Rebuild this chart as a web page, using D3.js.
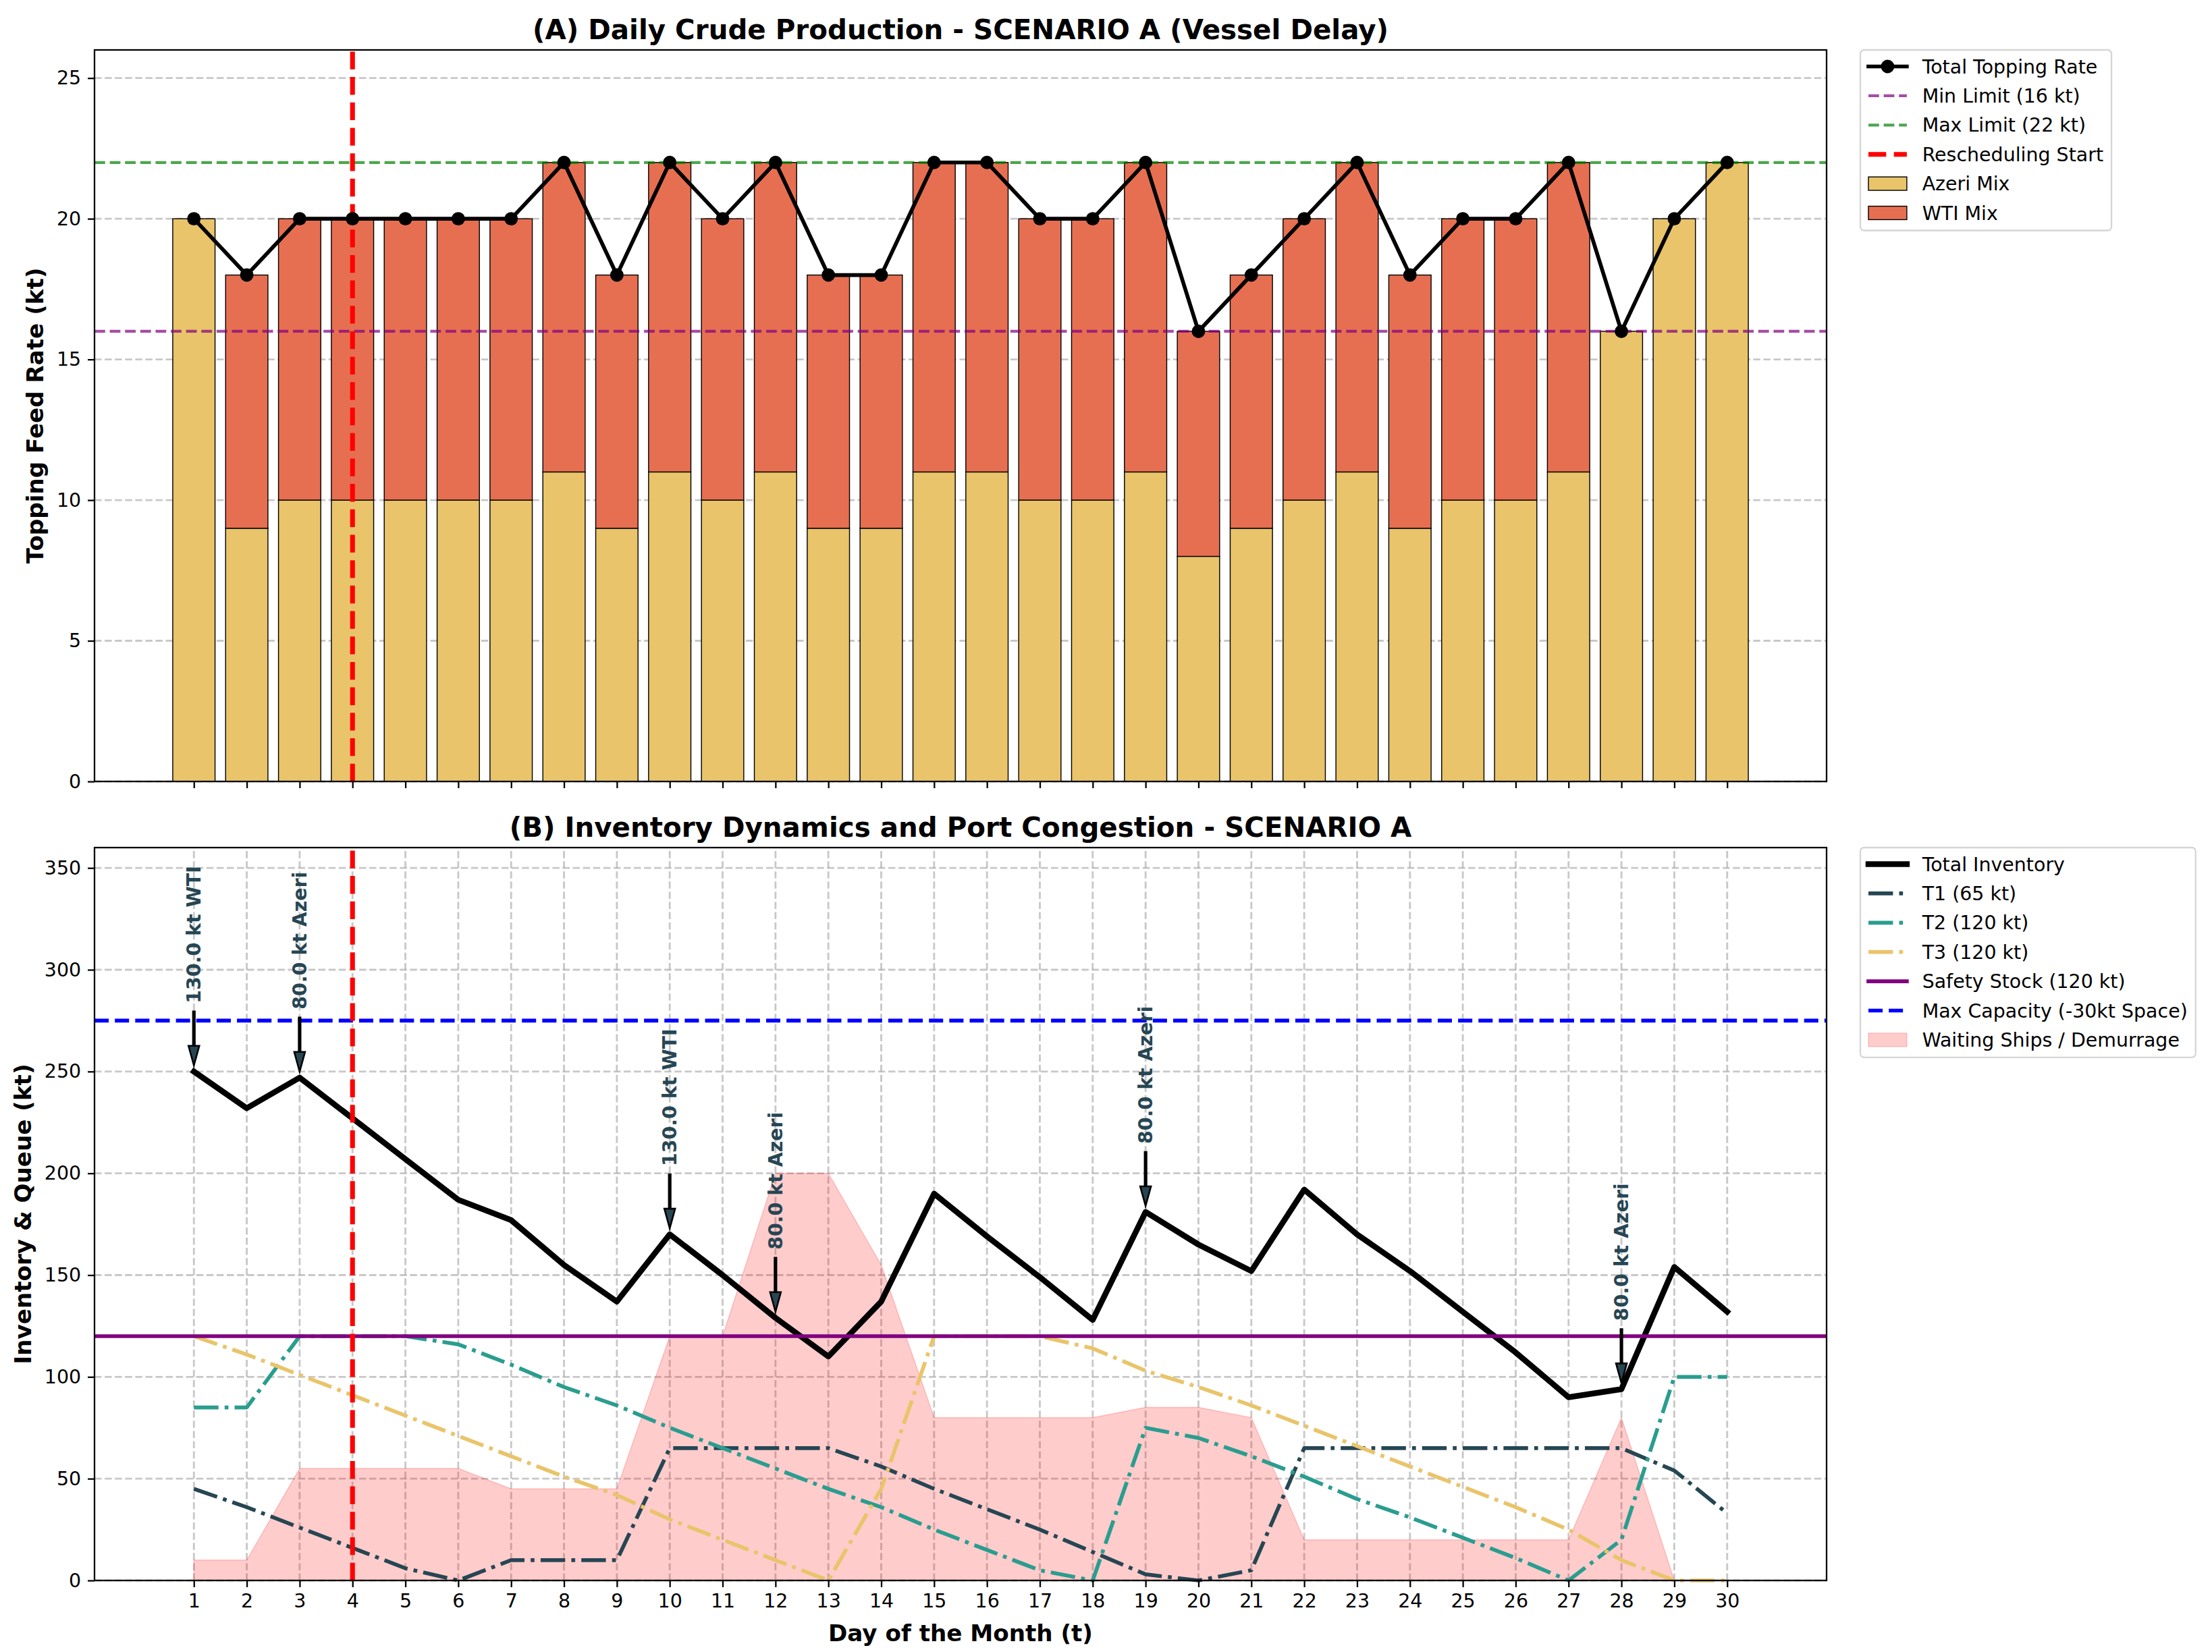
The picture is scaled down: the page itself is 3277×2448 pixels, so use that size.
<!DOCTYPE html>
<html>
<head>
<meta charset="utf-8">
<script src="https://cdn.jsdelivr.net/npm/d3@7"></script>
<style>
  html, body { margin: 0; padding: 0; background: #fff; }
  svg { display: block; font-family: "DejaVu Sans", sans-serif; }
</style>
</head>
<body>
<svg id="chart" width="3277" height="2448"></svg>
<script>
// ---- data ----
var days = d3.range(1, 31);
var azeriFeed = [20, 9, 10, 10, 10, 10, 10, 11, 9, 11, 10, 11, 9, 9, 11, 11, 10, 10, 11, 8, 9, 10, 11, 9, 10, 10, 11, 16, 20, 22];
var wtiFeed   = [0, 9, 10, 10, 10, 10, 10, 11, 9, 11, 10, 11, 9, 9, 11, 11, 10, 10, 11, 8, 9, 10, 11, 9, 10, 10, 11, 0, 0, 0];
var minLimit = 16, maxLimit = 22;
var reschedDay = 4;

var totalInventory = [250, 232, 247, 227, 207, 187, 177, 155, 137, 170, 150, 129, 110, 137, 190, 169, 149, 128, 181, 165, 152, 192, 170, 152, 132, 112, 90, 94, 154, 132];
var tank1 = [45, 36, 26, 16, 6, 0, 10, 10, 10, 65, 65, 65, 65, 56, 45, 35, 25, 14, 3, 0, 5, 65, 65, 65, 65, 65, 65, 65, 54, 33];
var tank2 = [85, 85, 120, 120, 120, 116, 106, 95, 86, 75, 65, 55, 45, 36, 25, 15, 5, 0, 75, 70, 61, 51, 40, 31, 21, 11, 0, 20, 100, 100];
var tank3 = [120, 111, 101, 91, 81, 71, 61, 51, 42, 30, 20, 10, 0, 45, 120, 120, 120, 114, 103, 95, 86, 76, 66, 56, 46, 36, 25, 10, 0, 0];
var waitingShips = [10, 10, 55, 55, 55, 55, 45, 45, 45, 120, 120, 200, 200, 155, 80, 80, 80, 80, 85, 85, 80, 20, 20, 20, 20, 20, 20, 80, 0, 0];
var safetyStock = 120, maxCapacity = 275;

var arrivalDays   = [1, 3, 10, 12, 19, 28];
var arrivalLabels = ['130.0 kt WTI', '80.0 kt Azeri', '130.0 kt WTI', '80.0 kt Azeri', '80.0 kt Azeri', '80.0 kt Azeri'];

var topTicks = [0, 5, 10, 15, 20, 25];
var bottomTicks = [0, 50, 100, 150, 200, 250, 300, 350];

// ---- sizes (figure rendered at ~205 dpi) ----
var PT = 204.8 / 72;
var fs = 10 * PT, labelFs = 12 * PT, titleFs = 14.2 * PT;
var X0 = 140, X1 = 2706;
var TA0 = 74, TA1 = 1158;     // top axes
var BA0 = 1256, BA1 = 2342;   // bottom axes

var c = {azeri: '#e9c46a', wti: '#e76f51', t1: '#264653', t2: '#2a9d8f', t3: '#e9c46a'};

var svg = d3.select('#chart');

var x = d3.scaleLinear().domain([-0.88, 31.88]).range([X0, X1]);
var yTop = d3.scaleLinear().domain([0, 26]).range([TA1, TA0]);
var yBot = d3.scaleLinear().domain([0, 360]).range([BA1, BA0]);

function dash(lw, pattern) {
    return pattern.map(function(p) { return p * lw * PT; }).join(',');
}
var DASHED = [3.7, 1.6], DASHDOT = [6.4, 1.6, 1, 1.6];

function hGrid(g, scale, ticks) {
    g.append('g').selectAll('line').data(ticks).join('line')
        .attr('x1', X0).attr('x2', X1)
        .attr('y1', function(d) { return scale(d); }).attr('y2', function(d) { return scale(d); })
        .attr('stroke', '#b0b0b0').attr('stroke-opacity', 0.7)
        .attr('stroke-width', 1 * PT).attr('stroke-dasharray', dash(1, DASHED));
}

function styleAxis(g, labels) {
    g.select('.domain').remove();
    g.selectAll('.tick line').attr('stroke', '#000').attr('stroke-width', 0.8 * PT);
    g.selectAll('.tick text').attr('fill', '#000').attr('font-size', fs)
        .attr('font-family', '"DejaVu Sans", sans-serif');
    if (!labels) g.selectAll('.tick text').remove();
}

// ================= (A) top chart =================
var gA = svg.append('g');
hGrid(gA, yTop, topTicks);

var barW = 0.8;
gA.append('g').selectAll('rect').data(days).join('rect')
    .attr('x', function(d) { return x(d - barW / 2); })
    .attr('width', x(barW) - x(0))
    .attr('y', function(d, i) { return yTop(azeriFeed[i]); })
    .attr('height', function(d, i) { return yTop(0) - yTop(azeriFeed[i]); })
    .attr('fill', c.azeri).attr('stroke', '#000').attr('stroke-width', 0.5 * PT);

gA.append('g').selectAll('rect').data(days.filter(function(d, i) { return wtiFeed[i] > 0; })).join('rect')
    .attr('x', function(d) { return x(d - barW / 2); })
    .attr('width', x(barW) - x(0))
    .attr('y', function(d) { return yTop(azeriFeed[d - 1] + wtiFeed[d - 1]); })
    .attr('height', function(d) { return yTop(azeriFeed[d - 1]) - yTop(azeriFeed[d - 1] + wtiFeed[d - 1]); })
    .attr('fill', c.wti).attr('stroke', '#000').attr('stroke-width', 0.5 * PT);

// limits
[[minLimit, '#800080'], [maxLimit, '#008000']].forEach(function(l) {
    gA.append('line')
        .attr('x1', X0).attr('x2', X1).attr('y1', yTop(l[0])).attr('y2', yTop(l[0]))
        .attr('stroke', l[1]).attr('stroke-opacity', 0.7)
        .attr('stroke-width', 1.5 * PT).attr('stroke-dasharray', dash(1.5, DASHED));
});

// rescheduling start
gA.append('line')
    .attr('x1', x(reschedDay)).attr('x2', x(reschedDay)).attr('y1', TA1).attr('y2', TA0)
    .attr('stroke', '#ff0000').attr('stroke-width', 2.5 * PT).attr('stroke-dasharray', dash(2.5, DASHED));

var totalFeed = days.map(function(d, i) { return azeriFeed[i] + wtiFeed[i]; });
gA.append('path')
    .attr('d', d3.line().x(function(d, i) { return x(days[i]); }).y(function(d) { return yTop(d); })(totalFeed))
    .attr('fill', 'none').attr('stroke', '#000').attr('stroke-width', 2 * PT)
    .attr('stroke-linejoin', 'round');
gA.append('g').selectAll('circle').data(totalFeed).join('circle')
    .attr('cx', function(d, i) { return x(days[i]); }).attr('cy', function(d) { return yTop(d); })
    .attr('r', 3.5 * PT).attr('fill', '#000');

gA.append('rect').attr('x', X0).attr('y', TA0).attr('width', X1 - X0).attr('height', TA1 - TA0)
    .attr('fill', 'none').attr('stroke', '#000').attr('stroke-width', 0.8 * PT);

gA.append('g').attr('transform', 'translate(' + X0 + ',0)')
    .call(d3.axisLeft(yTop).tickValues(topTicks).tickSize(3.5 * PT).tickPadding(3.5 * PT))
    .call(styleAxis, true);
gA.append('g').attr('transform', 'translate(0,' + TA1 + ')')
    .call(d3.axisBottom(x).tickValues(days).tickSize(3.5 * PT).tickFormat(''))
    .call(styleAxis, false);

gA.append('text').attr('x', (X0 + X1) / 2).attr('y', 58).attr('text-anchor', 'middle')
    .attr('font-size', titleFs).attr('font-weight', 'bold')
    .text('(A) Daily Crude Production - SCENARIO A (Vessel Delay)');
gA.append('text').attr('transform', 'translate(64,' + (TA0 + TA1) / 2 + ') rotate(-90)')
    .attr('text-anchor', 'middle').attr('font-size', labelFs).attr('font-weight', 'bold')
    .text('Topping Feed Rate (kt)');

// ================= (B) bottom chart =================
var gB = svg.append('g');
hGrid(gB, yBot, bottomTicks);
gB.append('g').selectAll('line').data(days).join('line')
    .attr('x1', function(d) { return x(d); }).attr('x2', function(d) { return x(d); })
    .attr('y1', BA1).attr('y2', BA0)
    .attr('stroke', '#b0b0b0').attr('stroke-opacity', 0.7)
    .attr('stroke-width', 1 * PT).attr('stroke-dasharray', dash(1, DASHED));

gB.append('path')
    .attr('d', d3.area().x(function(d, i) { return x(days[i]); }).y0(yBot(0)).y1(function(d) { return yBot(d); })(waitingShips))
    .attr('fill', 'rgba(255,0,0,0.2)').attr('stroke', 'rgba(255,0,0,0.2)').attr('stroke-width', 0.5 * PT);

var lineB = d3.line().x(function(d, i) { return x(days[i]); }).y(function(d) { return yBot(d); });
[[tank1, c.t1], [tank2, c.t2], [tank3, c.t3]].forEach(function(t) {
    gB.append('path').attr('d', lineB(t[0]))
        .attr('fill', 'none').attr('stroke', t[1]).attr('stroke-width', 2 * PT)
        .attr('stroke-dasharray', dash(2, DASHDOT)).attr('stroke-linejoin', 'round');
});

gB.append('path').attr('d', lineB(totalInventory))
    .attr('fill', 'none').attr('stroke', '#000').attr('stroke-width', 3 * PT)
    .attr('stroke-linejoin', 'round').attr('stroke-linecap', 'square');

gB.append('line').attr('x1', X0).attr('x2', X1).attr('y1', yBot(safetyStock)).attr('y2', yBot(safetyStock))
    .attr('stroke', '#800080').attr('stroke-width', 2 * PT);
gB.append('line').attr('x1', X0).attr('x2', X1).attr('y1', yBot(maxCapacity)).attr('y2', yBot(maxCapacity))
    .attr('stroke', '#0000ff').attr('stroke-width', 2 * PT).attr('stroke-dasharray', dash(2, DASHED));
gB.append('line')
    .attr('x1', x(reschedDay)).attr('x2', x(reschedDay)).attr('y1', BA1).attr('y2', BA0)
    .attr('stroke', '#ff0000').attr('stroke-width', 2.5 * PT).attr('stroke-dasharray', dash(2.5, DASHED));

// vessel arrival annotations
arrivalDays.forEach(function(d, k) {
    var v = totalInventory[d - 1];
    var cx = x(d), yt = yBot(v + 29.5), yp = yBot(v + 3), yh = yp - 29;
    var sw = 1.3, hw = 8;
    gB.append('path')
        .attr('d', 'M' + (cx - sw) + ',' + yt + 'L' + (cx + sw) + ',' + yt + 'L' + (cx + sw) + ',' + yh +
            'L' + (cx + hw) + ',' + yh + 'L' + cx + ',' + yp + 'L' + (cx - hw) + ',' + yh +
            'L' + (cx - sw) + ',' + yh + 'Z')
        .attr('fill', c.t1).attr('stroke', '#000').attr('stroke-width', 0.9 * PT);
    gB.append('text')
        .attr('transform', 'translate(' + (cx + 10) + ',' + yBot(v + 33.5) + ') rotate(-90)')
        .attr('font-size', fs).attr('font-weight', 'bold').attr('fill', c.t1)
        .text(arrivalLabels[k]);
});

gB.append('rect').attr('x', X0).attr('y', BA0).attr('width', X1 - X0).attr('height', BA1 - BA0)
    .attr('fill', 'none').attr('stroke', '#000').attr('stroke-width', 0.8 * PT);

gB.append('g').attr('transform', 'translate(' + X0 + ',0)')
    .call(d3.axisLeft(yBot).tickValues(bottomTicks).tickSize(3.5 * PT).tickPadding(3.5 * PT))
    .call(styleAxis, true);
gB.append('g').attr('transform', 'translate(0,' + BA1 + ')')
    .call(d3.axisBottom(x).tickValues(days).tickSize(3.5 * PT).tickPadding(3.5 * PT).tickFormat(d3.format('d')))
    .call(styleAxis, true);

gB.append('text').attr('x', (X0 + X1) / 2).attr('y', 1240).attr('text-anchor', 'middle')
    .attr('font-size', titleFs).attr('font-weight', 'bold')
    .text('(B) Inventory Dynamics and Port Congestion - SCENARIO A');
gB.append('text').attr('transform', 'translate(46,' + (BA0 + BA1) / 2 + ') rotate(-90)')
    .attr('text-anchor', 'middle').attr('font-size', labelFs).attr('font-weight', 'bold')
    .text('Inventory & Queue (kt)');
gB.append('text').attr('x', (X0 + X1) / 2).attr('y', 2432).attr('text-anchor', 'middle')
    .attr('font-size', labelFs).attr('font-weight', 'bold')
    .text('Day of the Month (t)');

// ================= legends =================
function legend(x0, y0, items) {
    var g = svg.append('g');
    var frame = g.append('rect');
    var rowH = 43.4, firstRow = 24.5;
    var hx0 = x0 + 12, hx1 = hx0 + 2 * fs, tx = hx1 + 0.8 * fs;
    var maxRight = 0;
    items.forEach(function(it, i) {
        var cy = y0 + firstRow + i * rowH;
        if (it.type === 'patch') {
            g.append('rect').attr('x', hx0).attr('y', cy - 0.35 * fs).attr('width', hx1 - hx0).attr('height', 0.7 * fs)
                .attr('fill', it.fill).attr('stroke', it.stroke).attr('stroke-width', it.sw);
        } else {
            g.append('line').attr('x1', hx0).attr('x2', hx1).attr('y1', cy).attr('y2', cy)
                .attr('stroke', it.color).attr('stroke-opacity', it.opacity || 1)
                .attr('stroke-width', it.lw * PT)
                .attr('stroke-dasharray', it.dash ? dash(it.lw, it.dash) : null)
                .attr('stroke-linecap', it.dash ? 'butt' : 'square');
            if (it.marker) g.append('circle').attr('cx', (hx0 + hx1) / 2).attr('cy', cy).attr('r', 3.5 * PT).attr('fill', it.color);
        }
        var t = g.append('text').attr('x', tx).attr('y', cy + 10).attr('font-size', fs).attr('fill', '#000').text(it.label);
        maxRight = Math.max(maxRight, tx + t.node().getComputedTextLength());
    });
    frame.attr('x', x0).attr('y', y0).attr('width', maxRight + 12 - x0)
        .attr('height', firstRow + (items.length - 1) * rowH + 26)
        .attr('rx', 0.2 * fs).attr('fill', '#fff').attr('fill-opacity', 0.8)
        .attr('stroke', '#d5d5d5').attr('stroke-width', 0.8 * PT);
}

legend(2756, TA0, [
    {label: 'Total Topping Rate', color: '#000', lw: 2, marker: true},
    {label: 'Min Limit (16 kt)', color: '#800080', opacity: 0.7, lw: 1.5, dash: DASHED},
    {label: 'Max Limit (22 kt)', color: '#008000', opacity: 0.7, lw: 1.5, dash: DASHED},
    {label: 'Rescheduling Start', color: '#ff0000', lw: 2.5, dash: DASHED},
    {label: 'Azeri Mix', type: 'patch', fill: c.azeri, stroke: '#000', sw: 0.5 * PT},
    {label: 'WTI Mix', type: 'patch', fill: c.wti, stroke: '#000', sw: 0.5 * PT}
]);

legend(2756, BA0, [
    {label: 'Total Inventory', color: '#000', lw: 3},
    {label: 'T1 (65 kt)', color: c.t1, lw: 2, dash: DASHDOT},
    {label: 'T2 (120 kt)', color: c.t2, lw: 2, dash: DASHDOT},
    {label: 'T3 (120 kt)', color: c.t3, lw: 2, dash: DASHDOT},
    {label: 'Safety Stock (120 kt)', color: '#800080', lw: 2},
    {label: 'Max Capacity (-30kt Space)', color: '#0000ff', lw: 2, dash: DASHED},
    {label: 'Waiting Ships / Demurrage', type: 'patch', fill: 'rgba(255,0,0,0.2)', stroke: 'rgba(255,0,0,0.2)', sw: 0.5 * PT}
]);
</script>
</body>
</html>
